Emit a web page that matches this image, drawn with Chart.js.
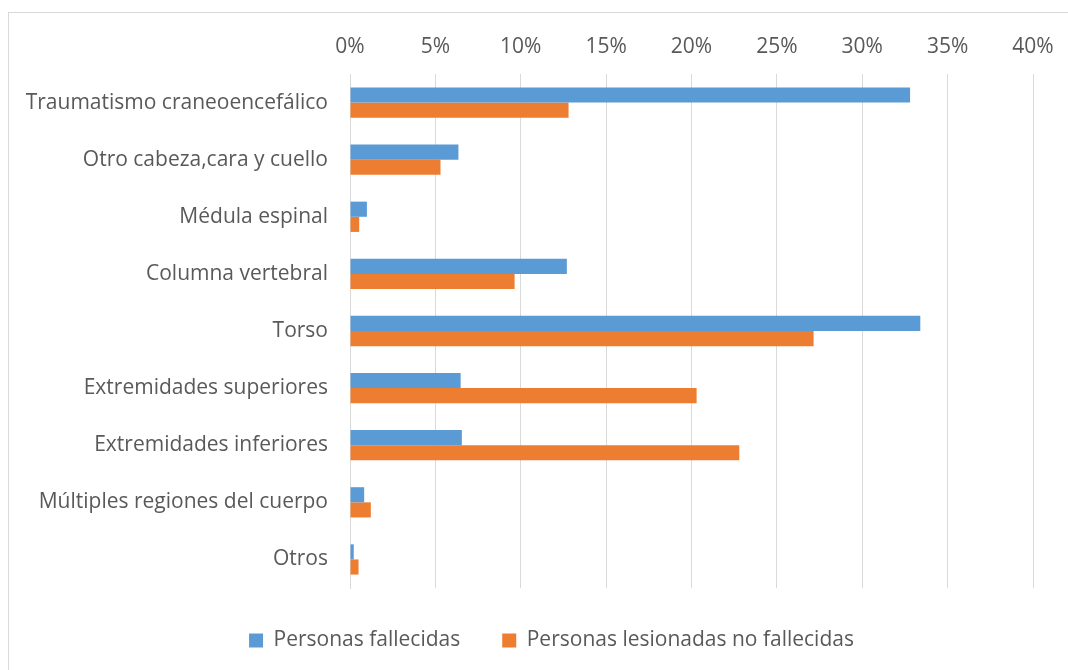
<!DOCTYPE html>
<html>
<head>
<meta charset="utf-8">
<script src="https://cdn.jsdelivr.net/npm/chart.js@4/dist/chart.umd.min.js"></script>
<style>
  html, body { margin: 0; padding: 0; background: #fff; overflow: hidden; }
  #frame { position: absolute; left: 8px; top: 12px; width: 1100px; height: 700px; border: 1px solid #D9D9D9; box-sizing: border-box; }
  #wrap { position: absolute; left: 0; top: 0; width: 1068px; height: 670px; }
</style>
</head>
<body>
<div id="frame"></div>
<div id="wrap"><canvas id="c" width="1068" height="670"></canvas></div>
<script>
const categories = [
  "Traumatismo craneoencefálico",
  "Otro cabeza,cara y cuello",
  "Médula espinal",
  "Columna vertebral",
  "Torso",
  "Extremidades superiores",
  "Extremidades inferiores",
  "Múltiples regiones del cuerpo",
  "Otros"
];
const fallecidas = [32.8, 6.35, 0.99, 12.7, 33.4, 6.48, 6.55, 0.83, 0.22];
const lesionadas = [12.8, 5.3, 0.54, 9.64, 27.15, 20.3, 22.8, 1.22, 0.5];
const seriesNames = ["Personas fallecidas", "Personas lesionadas no fallecidas"];
const xMax = 40;
const xStep = 5;

const FONT = "'Open Sans', sans-serif";
const TXT = "#595959";
const PAD_L = 10;
const LEGEND_SHIFT = 30;

const legendShift = {
  id: 'legendShift',
  afterLayout(chart) {
    const lg = chart.legend;
    if (lg) { lg.left += LEGEND_SHIFT; lg.right += LEGEND_SHIFT; }
  }
};

new Chart(document.getElementById('c'), {
  type: 'bar',
  data: {
    labels: categories,
    datasets: [
      { label: seriesNames[0], data: fallecidas, backgroundColor: '#5B9BD5',
        categoryPercentage: 0.53, barPercentage: 1.0 },
      { label: seriesNames[1], data: lesionadas, backgroundColor: '#ED7D31',
        categoryPercentage: 0.53, barPercentage: 1.0 }
    ]
  },
  plugins: [legendShift],
  options: {
    indexAxis: 'y',
    responsive: false,
    animation: false,
    layout: { padding: { left: PAD_L, right: 35, top: 13, bottom: 9 } },
    plugins: {
      legend: {
        position: 'bottom',
        labels: {
          font: { family: FONT, size: 21 },
          color: TXT,
          boxWidth: 14, boxHeight: 14,
          padding: 42
        },
        onClick: null
      },
      tooltip: { enabled: false }
    },
    scales: {
      x: {
        position: 'top',
        min: 0, max: xMax,
        ticks: {
          stepSize: xStep,
          font: { family: FONT, size: 21 },
          color: TXT,
          padding: 14,
          maxRotation: 0,
          callback: v => v + '%'
        },
        grid: { color: '#D9D9D9', lineWidth: 1, drawTicks: false },
        border: { display: false },
        afterFit: s => { s.height = 61; }
      },
      y: {
        ticks: {
          font: { family: FONT, size: 21 },
          color: TXT,
          padding: 22
        },
        grid: { display: false, drawTicks: false },
        border: { display: true, color: '#D9D9D9', width: 1 },
        afterFit: s => { s.width = 350 - PAD_L; }
      }
    }
  }
});
</script>
</body>
</html>
